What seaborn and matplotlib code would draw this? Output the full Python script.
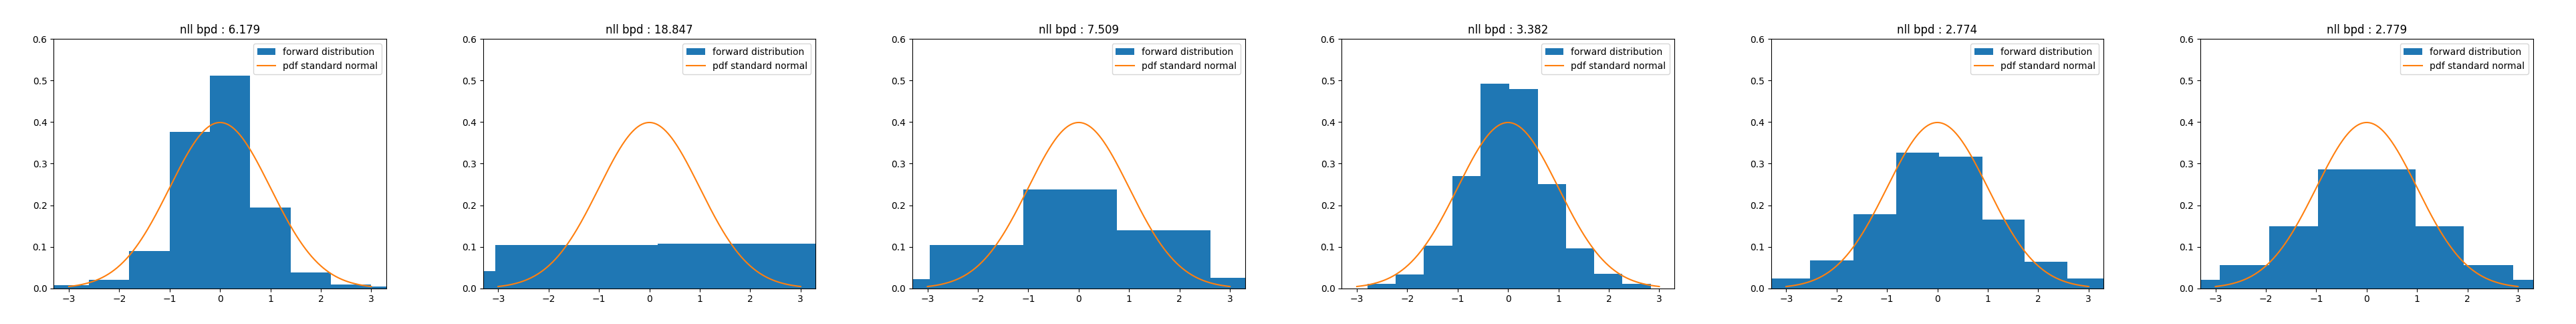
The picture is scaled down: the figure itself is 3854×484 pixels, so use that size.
import numpy as np
import pandas as pd
import matplotlib
matplotlib.use("Agg")
import matplotlib.pyplot as plt
import seaborn as sns

# nll bpd shown in each panel title
titles = ["nll bpd : 6.179", "nll bpd : 18.847", "nll bpd : 7.509",
          "nll bpd : 3.382", "nll bpd : 2.774", "nll bpd : 2.779"]

# histogram bin edges per panel
edges_1 = [-3.4, -2.6, -1.8, -1.0, -0.2, 0.6, 1.4, 2.2, 3.0, 3.8]
edges_2 = [-6.27, -3.06, 0.16, 3.37]
edges_3 = [-4.80, -2.95, -1.10, 0.76, 2.62, 4.48]
edges_4 = [-2.79, -2.23, -1.67, -1.10, -0.54, 0.02, 0.59, 1.15, 1.71, 2.27, 2.84]
edges_5 = [-3.38, -2.52, -1.67, -0.82, 0.03, 0.89, 1.73, 2.58, 3.43]
edges_6 = [-3.88, -2.91, -1.935, -0.962, 0.003, 0.968, 1.93, 2.904, 3.88]

# density heights per bin
dens_1 = [0.007, 0.020, 0.090, 0.376, 0.511, 0.194, 0.038, 0.010, 0.004]
dens_2 = [0.041, 0.1046, 0.108]
dens_3 = [0.022, 0.1046, 0.238, 0.140, 0.025]
dens_4 = [0.0103, 0.033, 0.103, 0.270, 0.493, 0.479, 0.251, 0.0965, 0.0347, 0.0103]
dens_5 = [0.0233, 0.0672, 0.178, 0.326, 0.316, 0.166, 0.064, 0.0233]
dens_6 = [0.020, 0.0558, 0.150, 0.2867, 0.2867, 0.150, 0.0558, 0.020]

all_edges = [edges_1, edges_2, edges_3, edges_4, edges_5, edges_6]
all_dens = [dens_1, dens_2, dens_3, dens_4, dens_5, dens_6]

# standard normal pdf on [-3, 3]
xs = np.linspace(-3, 3, 300)
pdf = np.exp(-xs ** 2 / 2) / np.sqrt(2 * np.pi)

fig = plt.figure(figsize=(38.54, 4.84), dpi=100)

for i in range(6):
    ax = fig.add_axes([(i + 0.125) / 6, 0.11, 0.775 / 6, 0.77])
    e = all_edges[i]
    df = pd.DataFrame({
        "x": [(a + b) / 2 for a, b in zip(e[:-1], e[1:])],
        "w": all_dens[i],
    })
    sns.histplot(data=df, x="x", weights="w", bins=e, stat="count",
                 color="#1f77b4", alpha=1, linewidth=0, ax=ax,
                 label="forward distribution")
    sns.lineplot(x=xs, y=pdf, color="#ff7f0e", linewidth=1.5, ax=ax,
                 label="pdf standard normal")
    ax.set_xlim(-3.3, 3.3)
    ax.set_ylim(0, 0.6)
    ax.set_xlabel("")
    ax.set_ylabel("")
    ax.set_title(titles[i], fontsize=12)

    handles, labels = ax.get_legend_handles_labels()
    order = [labels.index("forward distribution"), labels.index("pdf standard normal")]
    ax.legend([handles[k] for k in order], [labels[k] for k in order],
              loc="upper right")

fig.savefig("out.png", dpi=100)
